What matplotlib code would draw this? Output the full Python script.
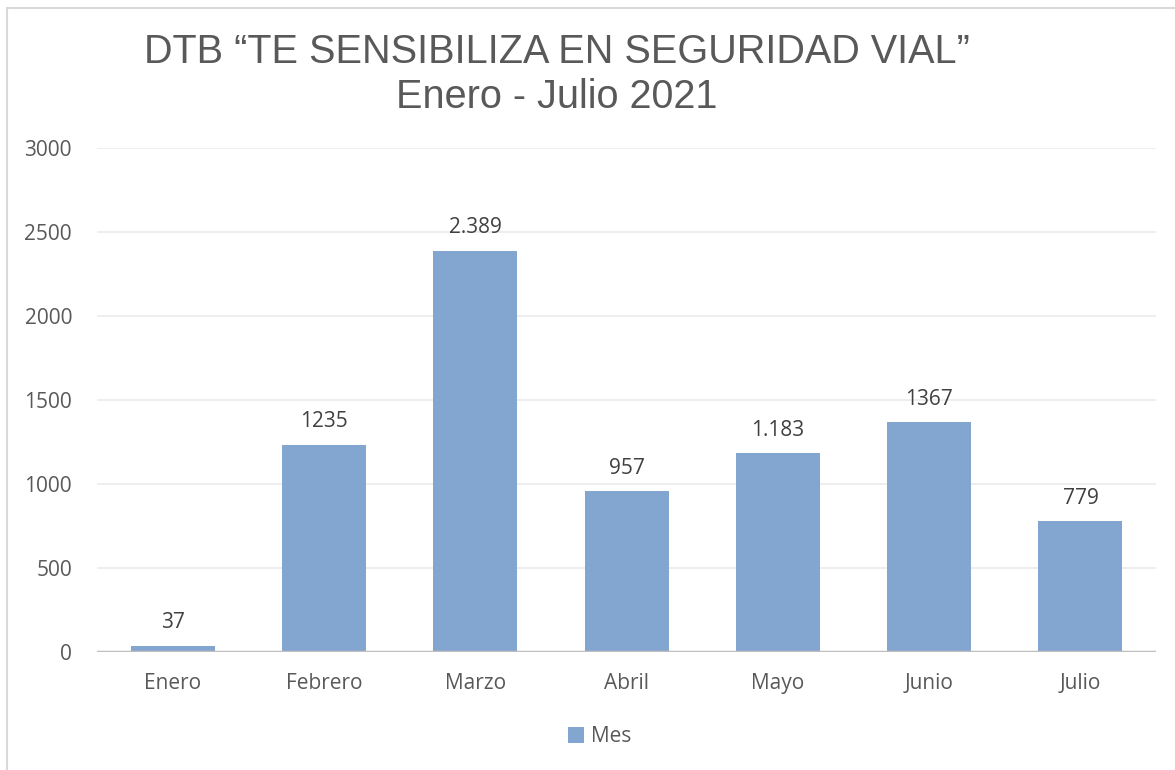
import matplotlib.pyplot as plt
from matplotlib.patches import Rectangle

meses = ["Enero", "Febrero", "Marzo", "Abril", "Mayo", "Junio", "Julio"]
valores = [37, 1235, 2389, 957, 1183, 1367, 779]
etiquetas = ["37", "1235", "2.389", "957", "1.183", "1367", "779"]
yticks = [0, 500, 1000, 1500, 2000, 2500, 3000]

bar_color = "#82A6D0"
text_color = "#595959"
label_font = ["Open Sans", "DejaVu Sans"]

fig = plt.figure(figsize=(11.75, 7.7), dpi=100)
ax = fig.add_axes([0.0826, 0.1532, 0.9013, 0.6546])

x = list(range(len(meses)))
bars = ax.bar(x, valores, width=0.555, color=bar_color, label="Mes", zorder=3)

for b, lab in zip(bars, etiquetas):
    ax.annotate(lab, (b.get_x() + b.get_width() / 2, b.get_height()),
                xytext=(0, 9), textcoords="offset points", ha="center", va="bottom",
                fontsize=15, color="#404040", family=label_font)

ax.set_xlim(-0.5, len(meses) - 0.5)
ax.set_ylim(0, 3000)
ax.set_yticks(yticks)
ax.set_xticks(x)
ax.set_xticklabels(meses)
ax.grid(axis="y", color="#EBEBEB", linewidth=1.2, zorder=0)
ax.axhline(0, color="#BFBFBF", linewidth=2.5, zorder=4)
for s in ax.spines.values():
    s.set_visible(False)
ax.tick_params(axis="both", length=0, labelsize=15, labelcolor=text_color)
ax.tick_params(axis="y", pad=18)
ax.tick_params(axis="x", pad=15)
for t in ax.get_xticklabels() + ax.get_yticklabels():
    t.set_family(label_font)

fig.text(0.474, 0.903, "DTB \u201cTE SENSIBILIZA EN SEGURIDAD VIAL\u201d\nEnero - Julio 2021",
         ha="center", va="center", fontsize=28.5, color=text_color,
         family=["Liberation Sans", "DejaVu Sans"], linespacing=1.22)

leg = fig.legend(handles=[bars], labels=["Mes"], loc="center", bbox_to_anchor=(0.51, 0.043),
                 frameon=False, handlelength=0.8, handleheight=0.8,
                 handletextpad=0.3, prop={"family": label_font, "size": 15})
for t in leg.get_texts():
    t.set_color(text_color)

fig.patches.append(Rectangle((0.006, -0.1), 1.1, 1.09, transform=fig.transFigure,
                             fill=False, edgecolor="#D9D9D9", linewidth=1.5))

fig.savefig("out.png", dpi=100)
